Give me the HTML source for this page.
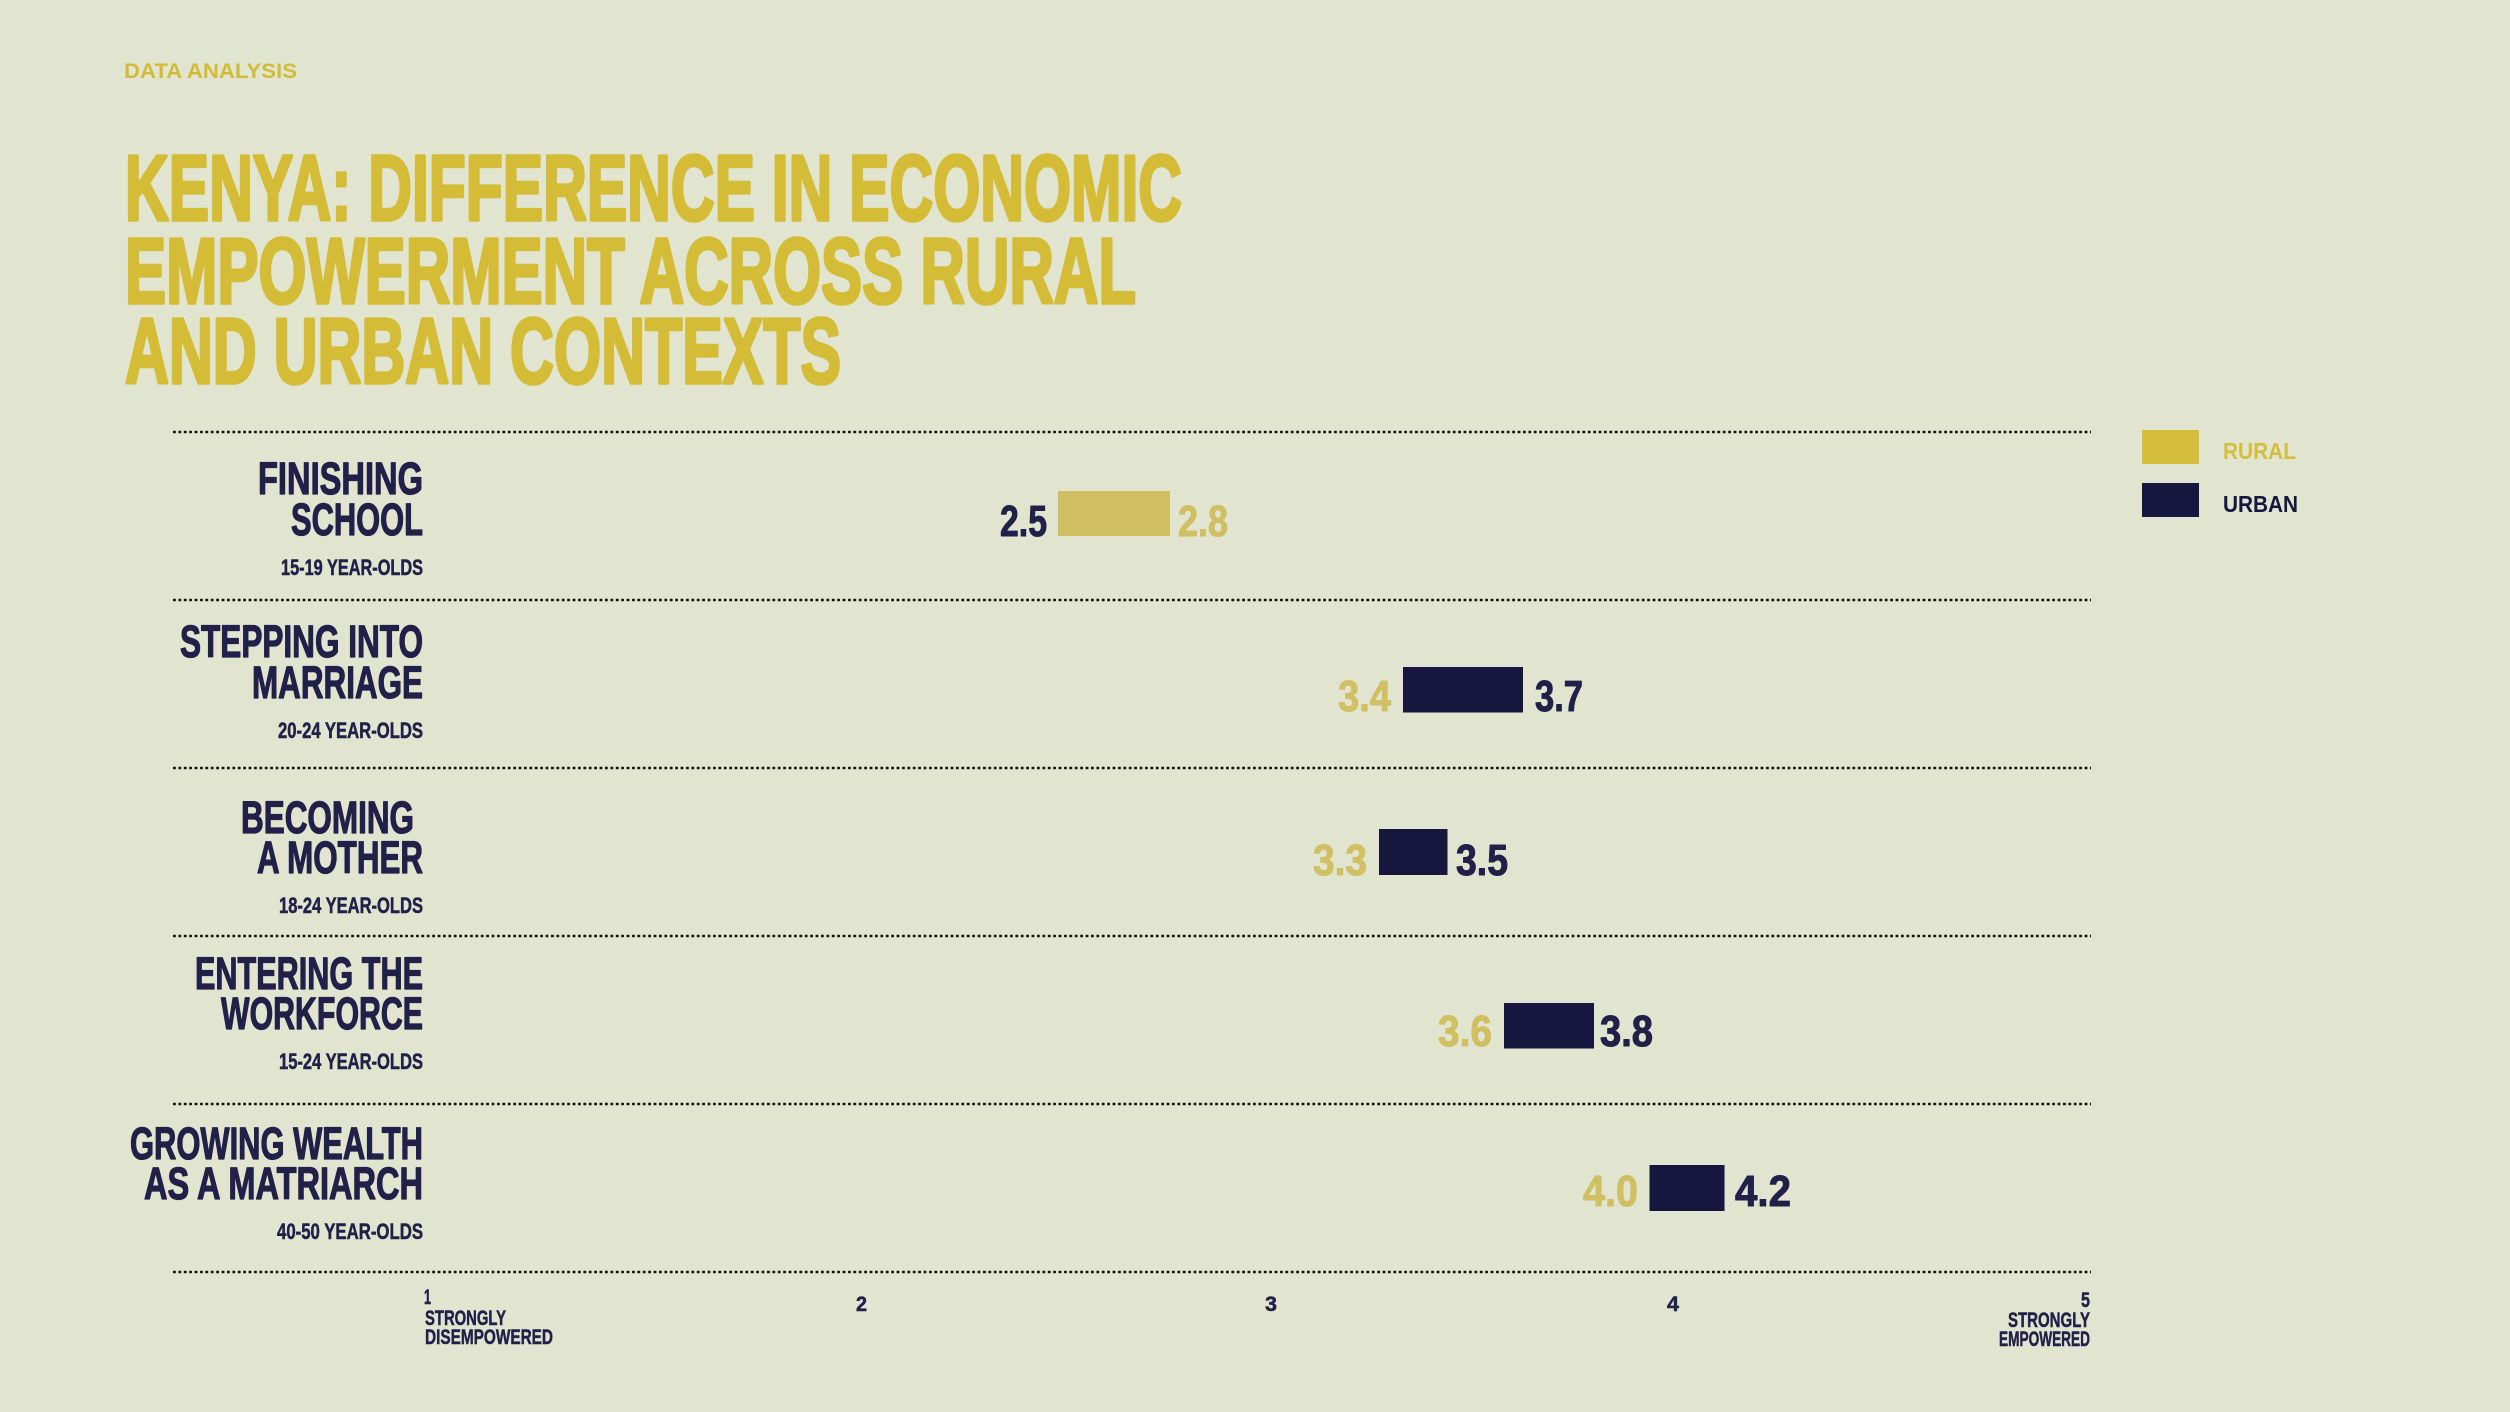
<!DOCTYPE html>
<html>
<head>
<meta charset="utf-8">
<style>
html,body{margin:0;padding:0;background:#e1e4cf;}
svg{display:block;}
text{font-family:"Liberation Sans",sans-serif;font-weight:bold;}
</style>
</head>
<body>
<svg width="2510" height="1412" viewBox="0 0 2510 1412" xmlns="http://www.w3.org/2000/svg">
<rect x="0" y="0" width="2510" height="1412" fill="#e1e4cf"/>

<!-- header -->
<text x="124" y="78" font-size="21" fill="#d2bb36" textLength="173" lengthAdjust="spacingAndGlyphs">DATA ANALYSIS</text>

<g fill="#d4bc37" stroke="#d4bc37" stroke-width="3.5" stroke-linejoin="round" font-size="93">
<text x="125" y="220" textLength="1057" lengthAdjust="spacingAndGlyphs">KENYA: DIFFERENCE IN ECONOMIC</text>
<text x="125" y="303" textLength="1011" lengthAdjust="spacingAndGlyphs">EMPOWERMENT ACROSS RURAL</text>
<text x="125" y="383" textLength="716" lengthAdjust="spacingAndGlyphs">AND URBAN CONTEXTS</text>
</g>

<!-- dotted separators -->
<g stroke="#141414" stroke-width="2.5" stroke-dasharray="2.8 2.6">
<line x1="173" y1="432" x2="2091" y2="432"/>
<line x1="173" y1="600" x2="2091" y2="600"/>
<line x1="173" y1="768" x2="2091" y2="768"/>
<line x1="173" y1="936" x2="2091" y2="936"/>
<line x1="173" y1="1104" x2="2091" y2="1104"/>
<line x1="173" y1="1272" x2="2091" y2="1272"/>
</g>

<!-- row labels -->
<g fill="#202049" text-anchor="end" font-size="45" stroke="#202049" stroke-width="1.2" stroke-linejoin="round">
<text x="423" y="494" textLength="165" lengthAdjust="spacingAndGlyphs">FINISHING</text>
<text x="423" y="535" textLength="132" lengthAdjust="spacingAndGlyphs">SCHOOL</text>
<text x="423" y="657" textLength="243" lengthAdjust="spacingAndGlyphs">STEPPING INTO</text>
<text x="423" y="698" textLength="171" lengthAdjust="spacingAndGlyphs">MARRIAGE</text>
<text x="414" y="833" textLength="173" lengthAdjust="spacingAndGlyphs">BECOMING</text>
<text x="423" y="873" textLength="166" lengthAdjust="spacingAndGlyphs">A MOTHER</text>
<text x="423" y="989" textLength="228" lengthAdjust="spacingAndGlyphs">ENTERING THE</text>
<text x="423" y="1029" textLength="202" lengthAdjust="spacingAndGlyphs">WORKFORCE</text>
<text x="423" y="1159" textLength="293" lengthAdjust="spacingAndGlyphs">GROWING WEALTH</text>
<text x="423" y="1199" textLength="279" lengthAdjust="spacingAndGlyphs">AS A MATRIARCH</text>
</g>
<g fill="#202049" text-anchor="end" font-size="22" stroke="#202049" stroke-width="0.5">
<text x="423" y="575" textLength="142" lengthAdjust="spacingAndGlyphs">15-19 YEAR-OLDS</text>
<text x="423" y="738" textLength="145" lengthAdjust="spacingAndGlyphs">20-24 YEAR-OLDS</text>
<text x="423" y="913" textLength="144" lengthAdjust="spacingAndGlyphs">18-24 YEAR-OLDS</text>
<text x="423" y="1069" textLength="144" lengthAdjust="spacingAndGlyphs">15-24 YEAR-OLDS</text>
<text x="423" y="1239" textLength="146" lengthAdjust="spacingAndGlyphs">40-50 YEAR-OLDS</text>
</g>

<!-- bars -->
<rect x="1058" y="491" width="112" height="45" fill="#cfbf62"/>
<rect x="1403" y="667" width="120" height="45.5" fill="#16163f"/>
<rect x="1379" y="829" width="68.5" height="46" fill="#16163f"/>
<rect x="1504" y="1003" width="90" height="45.5" fill="#16163f"/>
<rect x="1649.5" y="1165" width="75" height="46" fill="#16163f"/>

<!-- values -->
<g font-size="44" stroke-width="1" stroke-linejoin="round">
<text x="1000" y="536" fill="#202049" stroke="#202049" textLength="47" lengthAdjust="spacingAndGlyphs">2.5</text>
<text x="1178" y="536" fill="#d0bf63" stroke="#d0bf63" textLength="50" lengthAdjust="spacingAndGlyphs">2.8</text>
<text x="1338" y="711" fill="#d0bf63" stroke="#d0bf63" textLength="53" lengthAdjust="spacingAndGlyphs">3.4</text>
<text x="1535" y="711" fill="#202049" stroke="#202049" textLength="48" lengthAdjust="spacingAndGlyphs">3.7</text>
<text x="1313" y="875" fill="#d0bf63" stroke="#d0bf63" textLength="54" lengthAdjust="spacingAndGlyphs">3.3</text>
<text x="1456" y="875" fill="#202049" stroke="#202049" textLength="52" lengthAdjust="spacingAndGlyphs">3.5</text>
<text x="1438" y="1046" fill="#d0bf63" stroke="#d0bf63" textLength="54" lengthAdjust="spacingAndGlyphs">3.6</text>
<text x="1600" y="1046" fill="#202049" stroke="#202049" textLength="53" lengthAdjust="spacingAndGlyphs">3.8</text>
<text x="1583" y="1206" fill="#d0bf63" stroke="#d0bf63" textLength="55" lengthAdjust="spacingAndGlyphs">4.0</text>
<text x="1735" y="1206" fill="#202049" stroke="#202049" textLength="56" lengthAdjust="spacingAndGlyphs">4.2</text>
</g>

<!-- axis labels -->
<g fill="#202049" font-size="21.5" stroke="#202049" stroke-width="0.5">
<text x="424" y="1304" textLength="7" lengthAdjust="spacingAndGlyphs">1</text>
<text x="425" y="1325" textLength="81" lengthAdjust="spacingAndGlyphs">STRONGLY</text>
<text x="425" y="1344" textLength="128" lengthAdjust="spacingAndGlyphs">DISEMPOWERED</text>
<text x="856" y="1311" textLength="11" lengthAdjust="spacingAndGlyphs">2</text>
<text x="1265" y="1311" textLength="12" lengthAdjust="spacingAndGlyphs">3</text>
<text x="1667" y="1311" textLength="12" lengthAdjust="spacingAndGlyphs">4</text>
<text x="2090" y="1307" text-anchor="end" textLength="9" lengthAdjust="spacingAndGlyphs">5</text>
<text x="2090" y="1327" text-anchor="end" textLength="82" lengthAdjust="spacingAndGlyphs">STRONGLY</text>
<text x="2090" y="1346" text-anchor="end" textLength="91" lengthAdjust="spacingAndGlyphs">EMPOWERED</text>
</g>

<!-- legend -->
<rect x="2142" y="430" width="57" height="34" fill="#d5be3b"/>
<rect x="2142" y="483" width="57" height="34" fill="#15173f"/>
<text x="2223" y="459" font-size="23" fill="#d5be3b" textLength="73" lengthAdjust="spacingAndGlyphs">RURAL</text>
<text x="2223" y="512" font-size="23" fill="#15173f" textLength="75" lengthAdjust="spacingAndGlyphs">URBAN</text>
</svg>
</body>
</html>
